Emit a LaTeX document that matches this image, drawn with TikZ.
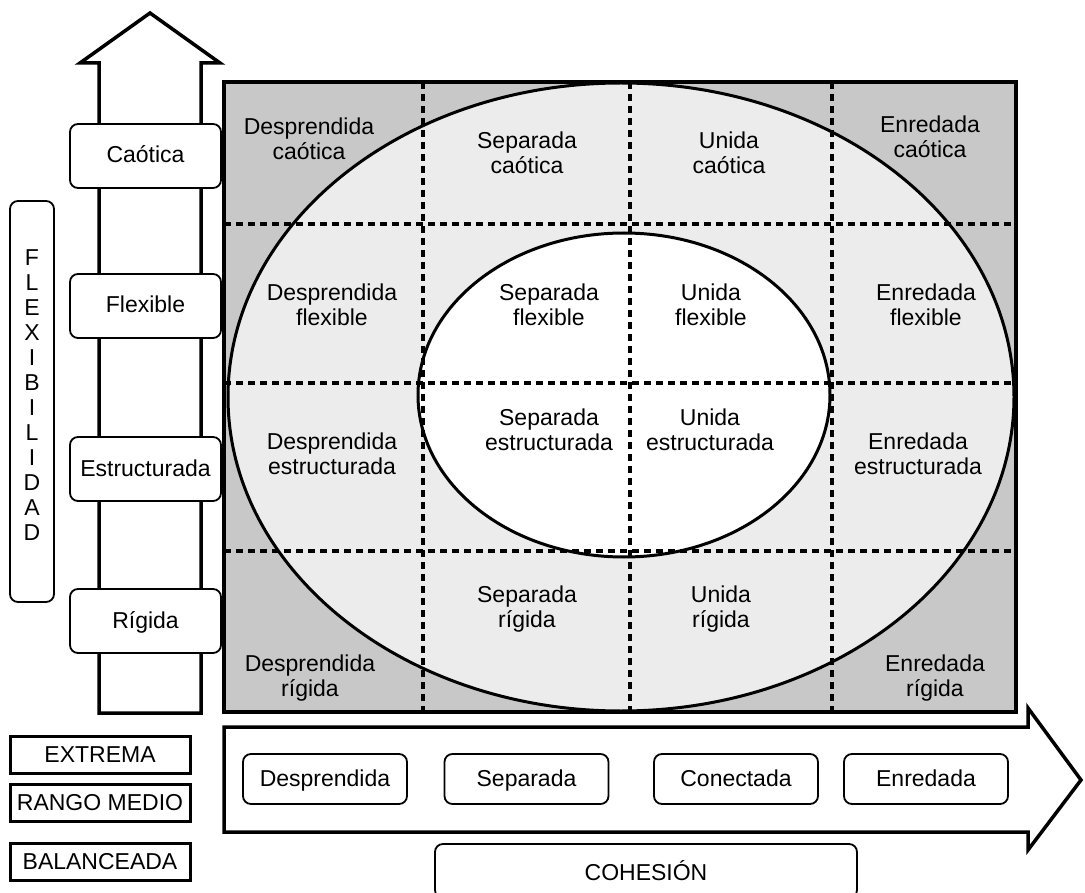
\documentclass[tikz,border=0pt]{standalone}
\usepackage{fontspec}
\setmainfont{Liberation Sans}
\usetikzlibrary{calc}
\definecolor{cornergray}{RGB}{200,200,200}
\definecolor{ringgray}{RGB}{236,236,236}
\tikzset{
  >=latex,
  cell/.style={align=center, inner sep=0pt},
  levelbox/.style={draw, rounded corners=8pt, fill=white, line width=1.8pt, inner sep=0pt, text height=18pt, text depth=4pt, minimum width=151pt, minimum height=64pt},
  cohbox/.style={draw, rounded corners=8pt, fill=white, line width=1.8pt, inner sep=0pt, text height=18pt, text depth=4pt, minimum width=164pt, minimum height=50pt},
  keybox/.style={draw, line width=3pt, inner sep=0pt, minimum width=180pt, minimum height=37pt},
  grid line/.style={dash pattern=on 7pt off 5pt, line width=3.2pt},
  bigarrow/.style={draw, line width=3.5pt, fill=white, line join=miter}
}

\begin{document}
\begin{tikzpicture}[x=1pt, y=-1pt, font=\fontsize{23}{25}\selectfont]
 \useasboundingbox (0,0) rectangle (1085,893);
 \fill[cornergray] (224,82) rectangle (1016,712);
 \fill[ringgray] (621,397) ellipse [x radius=393, y radius=314];
 \fill[white] (624,395) ellipse [x radius=206, y radius=162];
 \foreach \x in {423,630,832} \draw[grid line] (\x,82) -- (\x,712);
 \foreach \y in {224,383,551} \draw[grid line] (224,\y) -- (1016,\y);
 \draw[line width=3pt] (621,397) ellipse [x radius=393, y radius=314];
 \draw[line width=3pt] (624,395) ellipse [x radius=206, y radius=162];
 \draw[line width=3.8pt] (224,82) rectangle (1016,712);

 \node[cell] (dc) at (309,139) {Desprendida\\caótica};
 \node[cell] (sc) at (527,153) {Separada\\caótica};
 \node[cell] (uc) at (729,153) {Unida\\caótica};
 \node[cell] (ec) at (930,137) {Enredada\\caótica};
 \node[cell] (df) at (332,305) {Desprendida\\flexible};
 \node[cell] (sf) at (549,305) {Separada\\flexible};
 \node[cell] (uf) at (711,305) {Unida\\flexible};
 \node[cell] (ef) at (926,305) {Enredada\\flexible};
 \node[cell] (de) at (332,454) {Desprendida\\estructurada};
 \node[cell] (se) at (549,430) {Separada\\estructurada};
 \node[cell] (ue) at (710,430) {Unida\\estructurada};
 \node[cell] (ee) at (918,454) {Enredada\\estructurada};
 \node[cell] (sr) at (527,609) {Separada\\rígida};
 \node[cell] (ur) at (721,609) {Unida\\rígida};
 \node[cell] (dr) at (310,678) {Desprendida\\rígida};
 \node[cell] (er) at (935,678) {Enredada\\rígida};

 \draw[bigarrow] (99,713) -- (99,63) -- (80,63) -- (150,13) -- (220,63) -- (201,63) -- (201,713) -- cycle;
 \node[levelbox] (caotica) at (145.5,156) {Caótica};
 \node[levelbox] (flexible) at (145.5,306) {Flexible};
 \node[levelbox] (estruct) at (145.5,469) {Estructurada};
 \node[levelbox] (rigida) at (145.5,621) {Rígida};

 \node[draw, rounded corners=8pt, line width=1.8pt, minimum width=44pt, minimum height=401pt, inner sep=0pt] (flexbox) at (32,401.5) {};
 \node[cell] (flextxt) at (32,395) {F\\L\\E\\X\\I\\B\\I\\L\\I\\D\\A\\D};

 \draw[bigarrow] (224,727) -- (1028,727) -- (1028,708) -- (1081,780) -- (1028,850) -- (1028,832) -- (224,832) -- cycle;
 \node[cohbox] (desp) at (325,779) {Desprendida};
 \node[cohbox] (sepa) at (526.5,779) {Separada};
 \node[cohbox] (conec) at (736,779) {Conectada};
 \node[cohbox] (enre) at (926,779) {Enredada};

 \node[keybox] (extrema) at (100,754.5) {EXTREMA};
 \node[keybox] (rango) at (100,803) {RANGO MEDIO};
 \node[keybox] (balan) at (100,862) {BALANCEADA};

 \node[draw, rounded corners=8pt, line width=1.8pt, minimum width=422pt, minimum height=54pt, inner sep=0pt] (cohesion) at (646,871) {COHESIÓN};
\end{tikzpicture}
\end{document}
